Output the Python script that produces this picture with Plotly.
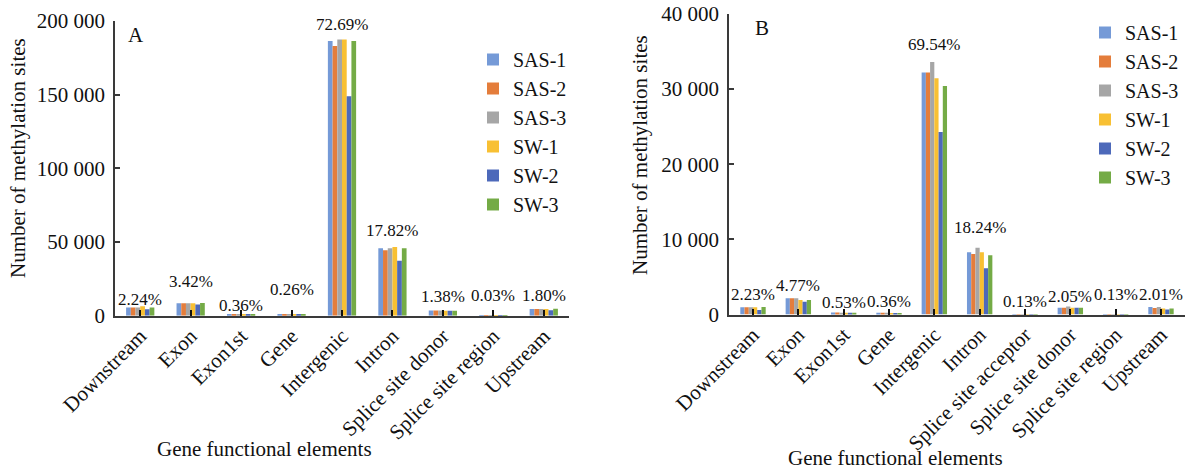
import plotly.graph_objects as go

# Gene functional element categories
categories_a = ["Downstream", "Exon", "Exon1st", "Gene", "Intergenic", "Intron",
                "Splice site donor", "Splice site region", "Upstream"]
categories_b = ["Downstream", "Exon", "Exon1st", "Gene", "Intergenic", "Intron",
                "Splice site acceptor", "Splice site donor", "Splice site region", "Upstream"]

samples = ["SAS-1", "SAS-2", "SAS-3", "SW-1", "SW-2", "SW-3"]

# Panel A: number of methylation sites per sample
sas1_a = [5600, 8400, 950, 700, 186400, 45700, 3500, 80, 4600]
sas2_a = [5600, 8400, 950, 650, 183000, 44500, 3500, 75, 4600]
sas3_a = [5600, 8400, 900, 650, 187400, 45700, 3500, 75, 4600]
sw1_a = [6400, 8400, 850, 600, 187400, 46600, 3400, 70, 4600]
sw2_a = [4300, 7600, 900, 650, 149000, 37300, 3300, 70, 3700]
sw3_a = [5500, 8600, 850, 600, 186400, 45700, 3400, 70, 4700]
pct_a = ["2.24%", "3.42%", "0.36%", "0.26%", "72.69%", "17.82%", "1.38%", "0.03%", "1.80%"]

# Panel B: number of methylation sites per sample
sas1_b = [960, 2150, 250, 230, 32200, 8280, 60, 900, 60, 1000]
sas2_b = [960, 2150, 250, 230, 32200, 8050, 60, 900, 60, 850]
sas3_b = [960, 2150, 230, 220, 33600, 8900, 60, 1050, 60, 1000]
sw1_b = [960, 1930, 220, 100, 31450, 8280, 50, 900, 50, 800]
sw2_b = [600, 1700, 220, 90, 24300, 6150, 50, 900, 50, 650]
sw3_b = [1000, 1930, 230, 90, 30400, 7880, 50, 900, 50, 800]
pct_b = ["2.23%", "4.77%", "0.53%", "0.36%", "69.54%", "18.24%", "0.13%", "2.05%", "0.13%", "2.01%"]

series_a = [sas1_a, sas2_a, sas3_a, sw1_a, sw2_a, sw3_a]
series_b = [sas1_b, sas2_b, sas3_b, sw1_b, sw2_b, sw3_b]

colors = ["#759AD7", "#E47D3B", "#A6A6A6", "#F8C033", "#4D69BA", "#74AB46"]

# vertical placement of the percentage labels (axis units)
label_y_a = [11300, 22900, 6600, 18100, 197300, 57500, 12700, 13400, 13400]
label_y_b = [2600, 3800, 1570, 1700, 36000, 11560, 1700, 2370, 2600, 2600]

FAMILY = "Liberation Serif, Times New Roman, serif"
INK = "#111111"
AXIS_COLOR = "#3a3a3a"
W, H = 1193, 470


def font(size):
    return dict(family=FAMILY, size=size, color=INK)


fig = go.Figure()

for name, vals, col in zip(samples, series_a, colors):
    fig.add_trace(go.Bar(x=categories_a, y=vals, name=name, marker_color=col,
                         marker_line_width=0, xaxis="x", yaxis="y", legend="legend"))
for name, vals, col in zip(samples, series_b, colors):
    fig.add_trace(go.Bar(x=categories_b, y=vals, name=name, marker_color=col,
                         marker_line_width=0, xaxis="x2", yaxis="y2", legend="legend2"))

annotations = []
for cat, txt, yv in zip(categories_a, pct_a, label_y_a):
    annotations.append(dict(x=cat, y=yv, xref="x", yref="y", text=txt, showarrow=False,
                            font=font(17), xanchor="center", yanchor="middle"))
for cat, txt, yv in zip(categories_b, pct_b, label_y_b):
    annotations.append(dict(x=cat, y=yv, xref="x2", yref="y2", text=txt, showarrow=False,
                            font=font(17), xanchor="center", yanchor="middle"))

# panel letters
annotations.append(dict(x=136 / W, y=1 - 35 / H, xref="paper", yref="paper", text="A",
                        showarrow=False, font=font(21), xanchor="center", yanchor="middle"))
annotations.append(dict(x=762 / W, y=1 - 28 / H, xref="paper", yref="paper", text="B",
                        showarrow=False, font=font(21), xanchor="center", yanchor="middle"))

# axis titles
for xc, yc in [(18, 158), (640, 155)]:
    annotations.append(dict(x=xc / W, y=1 - yc / H, xref="paper", yref="paper",
                            text="Number of methylation sites", textangle=-90, showarrow=False,
                            font=font(21), xanchor="center", yanchor="middle"))
for xc, yc in [(264, 449), (895, 458)]:
    annotations.append(dict(x=xc / W, y=1 - yc / H, xref="paper", yref="paper",
                            text="Gene functional elements", showarrow=False,
                            font=font(21), xanchor="center", yanchor="middle"))

xaxis_common = dict(type="category", showline=True, linecolor=AXIS_COLOR, linewidth=1.5,
                    ticks="inside", ticklen=6, tickcolor=INK, tickwidth=1.5,
                    tickangle=-45, tickfont=font(21), ticklabelstandoff=-2,
                    showgrid=False, zeroline=False, automargin=False)
yaxis_common = dict(showline=True, linecolor=AXIS_COLOR, linewidth=1.5,
                    ticks="inside", ticklen=5, tickcolor=AXIS_COLOR, tickwidth=1.5,
                    tickfont=font(21), tickformat=",d",
                    showgrid=False, zeroline=False, ticklabelstandoff=4, automargin=False)

fig.update_layout(
    width=W, height=H,
    margin=dict(l=0, r=0, t=0, b=0, autoexpand=False),
    paper_bgcolor="white", plot_bgcolor="white",
    font=dict(family=FAMILY, color=INK),
    separators=". ",
    barmode="group", bargap=0.44, bargroupgap=0,
    xaxis=dict(domain=[115 / W, 569 / W], anchor="y", **xaxis_common),
    yaxis=dict(domain=[1 - 315.7 / H, 1 - 21 / H], anchor="x", range=[0, 200000],
               tickvals=[0, 50000, 100000, 150000, 200000], **yaxis_common),
    xaxis2=dict(domain=[729 / W, 1185 / W], anchor="y2", **xaxis_common),
    yaxis2=dict(domain=[1 - 314.5 / H, 1 - 14 / H], anchor="x2", range=[0, 40000],
                tickvals=[0, 10000, 20000, 30000, 40000], **yaxis_common),
    legend=dict(x=473 / W, y=1 - 40 / H, xanchor="left", yanchor="top",
                bgcolor="rgba(0,0,0,0)", font=font(20)),
    legend2=dict(x=1085 / W, y=1 - 13 / H, xanchor="left", yanchor="top",
                 bgcolor="rgba(0,0,0,0)", font=font(20)),
    annotations=annotations,
    showlegend=True,
)

fig.write_html("out.html")
